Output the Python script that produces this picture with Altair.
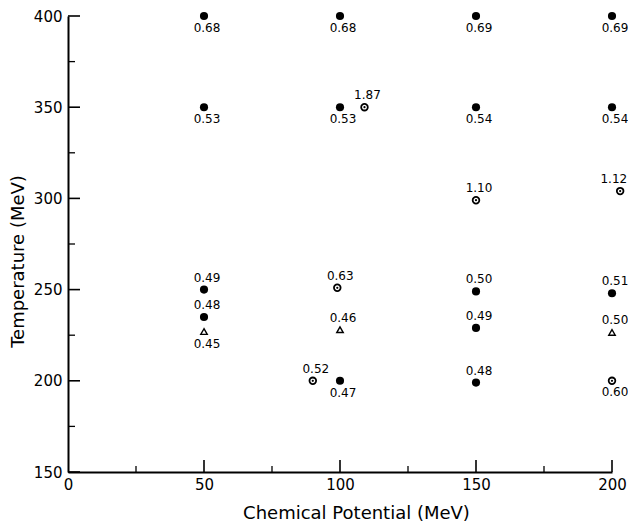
import altair as alt
import pandas as pd

# Filled circles, label below
fb_mu = [50, 100, 150, 200, 50, 100, 150, 200, 100]
fb_T = [400, 400, 400, 400, 350, 350, 350, 350, 200]
fb_lab = ["0.68", "0.68", "0.69", "0.69", "0.53", "0.53", "0.54", "0.54", "0.47"]

# Filled circles, label above
fa_mu = [50, 50, 150, 150, 150, 200]
fa_T = [250, 235, 249, 229, 199, 248]
fa_lab = ["0.49", "0.48", "0.50", "0.49", "0.48", "0.51"]

# Dotted rings, label above
ra_mu = [109, 99, 90, 150, 203]
ra_T = [350, 251, 200, 299, 304]
ra_lab = ["1.87", "0.63", "0.52", "1.10", "1.12"]

# Dotted rings, label below
rb_mu = [200]
rb_T = [200]
rb_lab = ["0.60"]

# Open triangles, label above
ta_mu = [100, 200]
ta_T = [228, 226.5]
ta_lab = ["0.46", "0.50"]

# Open triangles, label below
tb_mu = [50]
tb_T = [227]
tb_lab = ["0.45"]

# Axis ticks
x_labels = [0, 50, 100, 150, 200]
y_major = [150, 200, 250, 300, 350, 400]
y_minor = [175, 225, 275, 325, 375]
x_major = [50, 100, 150, 200]
x_minor = [25, 75, 125, 175]

W, H = 544, 456
FONT = "DejaVu Sans"


def df(mu, T, lab):
    return pd.DataFrame({"mu": mu, "T": T, "lab": lab})


x_enc = alt.X("mu:Q", scale=alt.Scale(domain=[0, 200], nice=False, zero=False),
              axis=alt.Axis(values=x_labels, title="Chemical Potential (MeV)",
                            ticks=False, grid=False, domainColor="black", domainWidth=2,
                            labelFont=FONT, labelFontSize=15, labelColor="black",
                            labelPadding=5, labelFlush=False,
                            titleFont=FONT, titleFontSize=18, titleFontWeight="normal",
                            titleColor="black", titleX=288, titleY=41,
                            titleBaseline="middle", titleAlign="center"))
y_enc = alt.Y("T:Q", scale=alt.Scale(domain=[150, 400], nice=False, zero=False),
              axis=alt.Axis(values=y_major, title="Temperature (MeV)",
                            ticks=False, grid=False, domainColor="black", domainWidth=2,
                            labelFont=FONT, labelFontSize=15, labelColor="black",
                            labelPadding=6, labelFlush=False,
                            titleFont=FONT, titleFontSize=18, titleFontWeight="normal",
                            titleColor="black", titleX=-50, titleY=245, titleAngle=-90,
                            titleBaseline="middle", titleAlign="center"))

x_plain = alt.X("mu:Q")
y_plain = alt.Y("T:Q")

layers = []

# ticks drawn inward
ytk = pd.DataFrame({"T": y_major})
ytm = pd.DataFrame({"T": y_minor})
xtk = pd.DataFrame({"mu": x_major})
xtm = pd.DataFrame({"mu": x_minor})

layers.append(alt.Chart(ytk).mark_rule(color="black", strokeWidth=1.6).encode(
    y=y_enc, x=alt.value(0), x2=alt.value(12)))
layers.append(alt.Chart(ytm).mark_rule(color="black", strokeWidth=1.3).encode(
    y=y_plain, x=alt.value(0), x2=alt.value(7)))
layers.append(alt.Chart(xtk).mark_rule(color="black", strokeWidth=1.6).encode(
    x=x_enc, y=alt.value(H), y2=alt.value(H - 12)))
layers.append(alt.Chart(xtm).mark_rule(color="black", strokeWidth=1.3).encode(
    x=x_plain, y=alt.value(H), y2=alt.value(H - 6)))

text_kw = dict(font=FONT, fontSize=12, color="black", baseline="middle")


def labels(base, dy):
    # labels of points inside the axis range sit centred just right of the marker;
    # a label of a point beyond the right end is right-aligned so it stays visible
    inside = base.transform_filter(alt.datum.mu <= 200).mark_text(
        dy=dy, dx=3, align="center", **text_kw).encode(x=x_plain, y=y_plain, text="lab:N")
    outside = base.transform_filter(alt.datum.mu > 200).mark_text(
        dy=dy, dx=7, align="right", **text_kw).encode(x=x_plain, y=y_plain, text="lab:N")
    return [inside, outside]


# filled circles
for mu, T, lab, dy in [(fb_mu, fb_T, fb_lab, 12), (fa_mu, fa_T, fa_lab, -12)]:
    base = alt.Chart(df(mu, T, lab))
    layers.append(base.mark_point(shape="circle", filled=True, color="black", size=66, opacity=1).encode(
        x=x_plain, y=y_plain))
    layers += labels(base, dy)

# dotted rings
for mu, T, lab, dy in [(ra_mu, ra_T, ra_lab, -12), (rb_mu, rb_T, rb_lab, 11)]:
    base = alt.Chart(df(mu, T, lab))
    layers.append(base.mark_point(shape="circle", filled=False, color="black", size=44,
                                  strokeWidth=1.8, opacity=1).encode(x=x_plain, y=y_plain))
    layers.append(base.mark_point(shape="circle", filled=True, color="black", size=5,
                                  opacity=1).encode(x=x_plain, y=y_plain))
    layers += labels(base, dy)

# open triangles
for mu, T, lab, dy in [(ta_mu, ta_T, ta_lab, -12), (tb_mu, tb_T, tb_lab, 12)]:
    base = alt.Chart(df(mu, T, lab))
    layers.append(base.mark_point(shape="triangle-up", filled=False, color="black", size=42,
                                  strokeWidth=1.4, opacity=1).encode(x=x_plain, y=y_plain))
    layers += labels(base, dy)

chart = alt.layer(*layers).properties(
    width=W, height=H,
    autosize=alt.AutoSizeParams(type="none"),
    padding={"left": 60, "top": 8, "right": 16, "bottom": 50},
).configure(background="white").configure_view(stroke=None, strokeWidth=0)

chart.save("out.html", embed_options={"renderer": "svg", "actions": False})
